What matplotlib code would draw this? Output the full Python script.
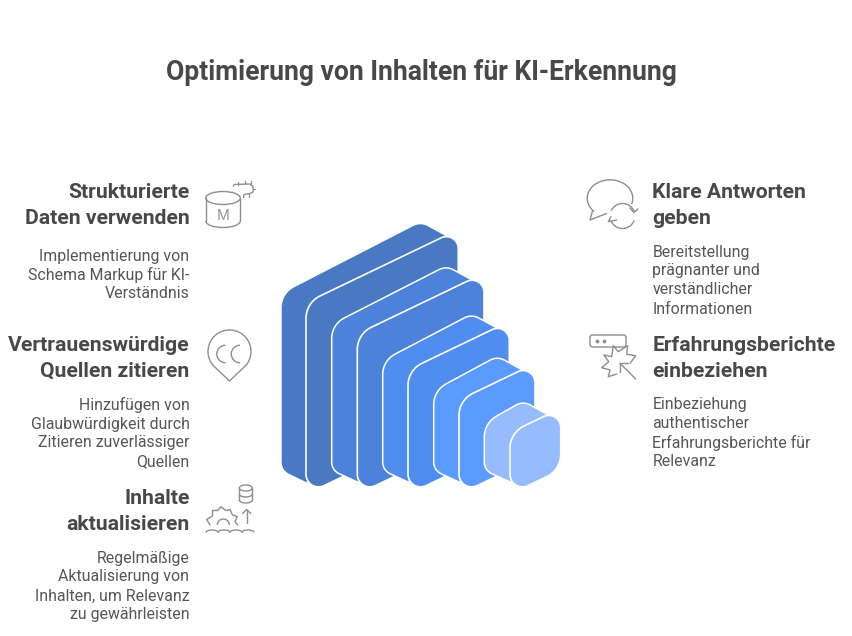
import numpy as np
import matplotlib
matplotlib.use('Agg')
import matplotlib.pyplot as plt
from matplotlib.path import Path
from matplotlib.patches import PathPatch, Arc, Ellipse, FancyBboxPatch

plt.rcParams['font.family'] = ['Roboto', 'DejaVu Sans']

title = 'Optimierung von Inhalten für KI-Erkennung'

# Texte links: Überschrift, Beschreibung
left_heads = [['Strukturierte', 'Daten verwenden'],
              ['Vertrauenswürdige', 'Quellen zitieren'],
              ['Inhalte', 'aktualisieren']]
left_bodies = [['Implementierung von', 'Schema Markup für KI-', 'Verständnis'],
               ['Hinzufügen von', 'Glaubwürdigkeit durch', 'Zitieren zuverlässiger', 'Quellen'],
               ['Regelmäßige', 'Aktualisierung von', 'Inhalten, um Relevanz', 'zu gewährleisten']]
left_head_y = [192.5, 345.5, 498.5]
left_body_y = [256, 405, 558]

# Texte rechts
right_heads = [['Klare Antworten', 'geben'],
               ['Erfahrungsberichte', 'einbeziehen']]
right_bodies = [['Bereitstellung', 'prägnanter und', 'verständlicher', 'Informationen'],
                ['Einbeziehung', 'authentischer', 'Erfahrungsberichte für', 'Relevanz']]
right_head_y = [192.5, 345.5]
right_body_y = [252, 405]

# Blöcke von hinten nach vorne
block_side_left = [281.7, 331.7, 382.7, 433.7, 484.3]
block_front_left = [306.0, 357.3, 408.0, 459.0, 510.0]
block_right = [458.3, 484.0, 509.3, 535.0, 560.7]
block_top_y = [302.7, 334.0, 370.0, 400.0, 432.7]
block_colors = ['#4a79c3', '#4d82da', '#4f8ef0', '#5b9aff', '#96bcff']

bottom_y = 494.3
slope = 0.48
line_col = '#8e8e8e'
text_dark = '#484848'
text_body = '#565656'

fig = plt.figure(figsize=(8.52, 6.36), dpi=100)
ax = fig.add_axes([0, 0, 1, 1])
ax.set_xlim(0, 852)
ax.set_ylim(636, 0)
ax.axis('off')


# Polygon mit kreisförmig abgerundeten Ecken, je Ecke eigener Radius
def rounded_path(points, radii):
    pts = np.array(points, dtype=float)
    n = len(pts)
    verts = []
    codes = []
    for i in range(n):
        p = pts[i]
        a = pts[i - 1] - p
        b = pts[(i + 1) % n] - p
        a = a / np.linalg.norm(a)
        b = b / np.linalg.norm(b)
        angle = np.arccos(np.clip(np.dot(a, b), -1, 1))
        sweep = np.pi - angle
        arc_r = radii[i] * np.tan(angle / 2)
        handle = 4 / 3 * np.tan(sweep / 4) * arc_r
        start = p + a * radii[i]
        end = p + b * radii[i]
        verts.append(start)
        codes.append(Path.MOVETO if i == 0 else Path.LINETO)
        verts += [start - a * handle, end - b * handle, end]
        codes += [Path.CURVE4, Path.CURVE4, Path.CURVE4]
    verts.append(verts[0])
    codes.append(Path.CLOSEPOLY)
    return Path(verts, codes)


def draw_block(i):
    sl = block_side_left[i]
    fl = block_front_left[i]
    r = block_right[i]
    top = block_top_y[i]
    col = block_colors[i]
    d = fl - sl
    tr = top - (r - fl) * slope
    br = bottom_y - (r - fl) * slope
    # Seitenteil: hinter der Vorderseite, Spitze oben deutlich vor der rechten Kante
    side = [(sl, top - d * slope + 2.7), (r - 37.7, tr - 7.3), (r - 13, tr + 6.2), (r - 13, br - 10),
            (fl + 8, bottom_y - 14), (fl, bottom_y - 12.3), (sl, bottom_y - 24)]
    side_r = [14, 8, 1, 1, 1, 1, 8]
    edge = 'white' if i > 0 else 'none'
    ax.add_patch(PathPatch(rounded_path(side, side_r), facecolor=col, edgecolor=edge, lw=1.1, zorder=2 + i))
    front = [(fl, top), (r, tr), (r, br), (fl, bottom_y)]
    ax.add_patch(PathPatch(rounded_path(front, [15.5, 19, 15.5, 20]), facecolor=col, edgecolor='white',
                           lw=1.2, zorder=2 + i))


for i in range(len(block_colors)):
    draw_block(i)

# Titel
ax.text(421, 72.5, title, ha='center', va='center', fontsize=19.1, fontweight='bold', color=text_dark)


def draw_text(x, y0, body_y, head, body, ha):
    y = y0
    for line_txt in head:
        ax.text(x, y, line_txt, ha=ha, va='center', fontsize=15.2, fontweight='bold', color=text_dark)
        y += 26
    y = body_y
    for line_txt in body:
        ax.text(x, y, line_txt, ha=ha, va='center', fontsize=11.4, color=text_body)
        y += 19


for head, body, y, by in zip(left_heads, left_bodies, left_head_y, left_body_y):
    draw_text(189.5, y, by, head, body, 'right')
for head, body, y, by in zip(right_heads, right_bodies, right_head_y, right_body_y):
    draw_text(652.5, y, by, head, body, 'left')


def line(pts, lw=1.0):
    pts = np.array(pts, dtype=float)
    ax.plot(pts[:, 0], pts[:, 1], color=line_col, lw=lw, solid_capstyle='round', solid_joinstyle='round', zorder=10)


# Winkel laufen hier im Uhrzeigersinn, weil die y-Achse umgedreht ist
def arc(cx, cy, w, h, t1, t2, lw=1.0):
    ax.add_patch(Arc((cx, cy), w, h, theta1=t1, theta2=t2, color=line_col, lw=lw, zorder=10))


# Icon 1: Datenbank mit Chip
ax.add_patch(Ellipse((223, 198), 34.5, 13, fill=False, ec=line_col, lw=1.0, zorder=10))
line([(205.7, 198), (205.7, 221)])
line([(240.3, 198), (240.3, 221)])
arc(223, 221, 34.5, 13, 0, 180)
ax.text(223, 216.5, 'M', ha='center', va='center', fontsize=10.5, color='#9a9a9a')
line([(234, 184.5), (250, 184), (253, 186.5), (253, 192), (250, 193.5), (244, 194.5), (243.5, 197.5)])
for px, py, qx, qy in [(238, 181.5, 238, 184.5), (245, 181, 245, 184), (250.5, 181, 250.5, 184),
                       (253, 188.5, 255, 188.5), (249, 193.5, 249, 196.5), (233, 184.5, 233, 186)]:
    line([(px, py), (qx, qy)], lw=0.9)

# Icon 2: Pin mit CC
cx, cy, r = 229.5, 351.5, 21.5
arc(cx, cy, 2 * r, 2 * r, 140, 40)
line([(cx + r * np.cos(np.radians(40)), cy + r * np.sin(np.radians(40))),
      (229.5, 381),
      (cx - r * np.cos(np.radians(40)), cy + r * np.sin(np.radians(40)))])
arc(225.5, 354, 17.5, 17.5, 90, 270)
arc(240, 354, 17.5, 17.5, 90, 270)

# Icon 3: Datenbank, Pfeil, Zahnrad, Welle
ax.add_patch(Ellipse((245.8, 488), 13, 6, fill=False, ec=line_col, lw=1.0, zorder=10))
line([(239.3, 488), (239.3, 500)])
line([(252.3, 488), (252.3, 500)])
arc(245.8, 494, 13, 6, 0, 180)
arc(245.8, 500, 13, 6, 0, 180)
line([(246.7, 522.5), (246.7, 509.5)])
line([(242.5, 513.5), (246.7, 509.5), (250.8, 513.5)])
line([(210, 525), (206.7, 519.5), (212.5, 516), (212.5, 510.5), (217.7, 510.5), (221, 506.7),
      (225.7, 510.5), (230, 509.5), (232.5, 515), (237.3, 516.7), (235, 521.5), (237.7, 525)])
arc(223.3, 525, 12, 12, 180, 0)
wave_x = [206, 218, 230, 242, 254]
for a, b in zip(wave_x[:-1], wave_x[1:]):
    arc((a + b) / 2, 532.5, b - a, 5, 180, 0)

# Icon 4: Sprechblase mit Pfeilen
arc(610, 198.3, 45.5, 37, 140, 15)
line([(592.3, 211.7), (590, 220), (606.5, 213.5)])
arc(622.5, 216, 25, 25, 205, 340)
line([(630, 208), (634, 212.5), (638, 209)])
arc(622.5, 216, 25, 25, 20, 155)
line([(611, 216.7), (608.3, 221.7), (616.7, 220)])

# Icon 5: Fenster mit Cursor
ax.add_patch(FancyBboxPatch((590, 335), 36, 12, boxstyle='round,pad=0,rounding_size=2.5', fill=False,
                            ec=line_col, lw=1.0, zorder=10))
ax.plot([596.5, 603.5], [340.7, 340.7], ls='none', marker='o', ms=1.7, color=line_col, zorder=10)
line([(604, 355), (611.7, 356.7), (613.3, 345.7), (618.3, 351.7), (627.7, 345.7), (626.7, 354.3),
      (635.7, 355.7), (630, 363.3)])
line([(604, 355), (608.7, 361.7), (601.7, 367.7), (610, 370), (608.3, 376.7), (616.7, 374)])
line([(635.7, 379), (620, 363.3)])
line([(620, 371.7), (620, 363.3), (628.3, 363.3)])

fig.savefig('out.png', dpi=100)
